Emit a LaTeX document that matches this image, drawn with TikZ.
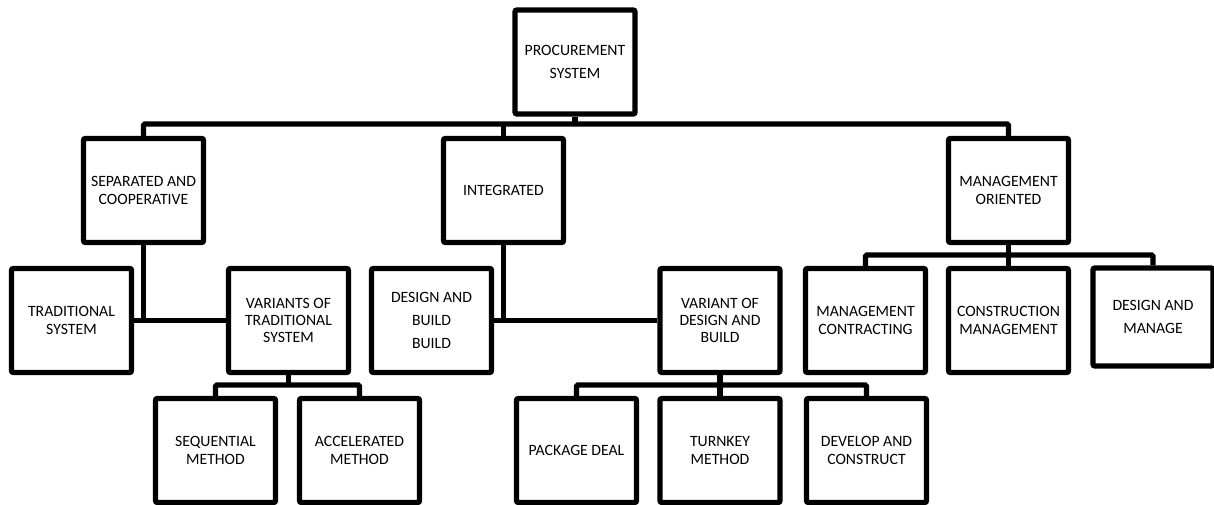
\documentclass[tikz,border=0pt]{standalone}
\usepackage{fontspec}
\setmainfont{Carlito}
\usetikzlibrary{calc}

\tikzset{
  box/.style={draw, line width=4pt, rounded corners=1.5pt, minimum width=90pt, minimum height=78pt, inner sep=1pt, align=center, font=\fontsize{11.8}{13}\selectfont},
  boxwide/.style={box, font=\fontsize{11.8}{17.5}\selectfont},
  link/.style={line width=4pt, rounded corners=1pt},
}

\begin{document}
\begin{tikzpicture}[x=0.75pt,y=0.75pt,yscale=-1,xscale=1]
\useasboundingbox (0,0) rectangle (1214,505);

%Shape: Rectangle [top]
\node [boxwide] (proc) at (575,62) {PROCUREMENT\\SYSTEM};
%Shape: Rectangle [second row]
\node [box] (sep) at (143.5,190.5) {SEPARATED AND\\COOPERATIVE};
\node [box] (integ) at (503.5,190.5) {INTEGRATED};
\node [box] (mgmt) at (1008.5,190.5) {MANAGEMENT\\ORIENTED};
%Shape: Rectangle [third row]
\node [box] (trad) at (71.5,320.5) {TRADITIONAL\\SYSTEM};
\node [box] (vartrad) at (288.5,320.5) {VARIANTS OF\\TRADITIONAL\\SYSTEM};
\node [boxwide] (db) at (431.5,320.5) {DESIGN AND\\BUILD\\BUILD};
\node [box] (vardb) at (720,320.5) {VARIANT OF\\DESIGN AND\\BUILD};
\node [box] (mc) at (865.5,320.5) {MANAGEMENT\\CONTRACTING};
\node [box] (cm) at (1008.5,320.5) {CONSTRUCTION\\MANAGEMENT};
\node [boxwide, minimum height=73.5pt] (dm) at (1153,317) {DESIGN AND\\MANAGE};
%Shape: Rectangle [fourth row]
\node [box] (seq) at (215.5,450.5) {SEQUENTIAL\\METHOD};
\node [box] (acc) at (359.5,450.5) {ACCELERATED\\METHOD};
\node [box] (pd) at (576.5,450.5) {PACKAGE DEAL};
\node [box] (tk) at (720,450.5) {TURNKEY\\METHOD};
\node [box] (dc) at (866.5,450.5) {DEVELOP AND\\CONSTRUCT};

%bus levels
\coordinate (topbus) at (575,124);
\coordinate (mbus) at (1008.5,255);
\coordinate (tbus) at (288.5,385);
\coordinate (dbus) at (720,385);

%Straight Lines [top bus]
\draw [link] (sep.north) |- (topbus) -| (mgmt.north);
\draw [link] (proc.south) -- (topbus);
\draw [link] (integ.north) -- (integ.north |- topbus);
%Straight Lines [second row to third row]
\draw [link] (trad.east) -- (vartrad.west);
\draw [link] (sep.south) -- (sep.south |- trad.east);
\draw [link] (db.east) -- (vardb.west);
\draw [link] (integ.south) -- (integ.south |- db.east);
\draw [link] (mc.north) |- (mbus) -| (dm.north);
\draw [link] (mgmt.south) -- (cm.north);
%Straight Lines [third row to fourth row]
\draw [link] (seq.north) |- (tbus) -| (acc.north);
\draw [link] (vartrad.south) -- (tbus);
\draw [link] (pd.north) |- (dbus) -| (dc.north);
\draw [link] (vardb.south) -- (tk.north);

\end{tikzpicture}
\end{document}
